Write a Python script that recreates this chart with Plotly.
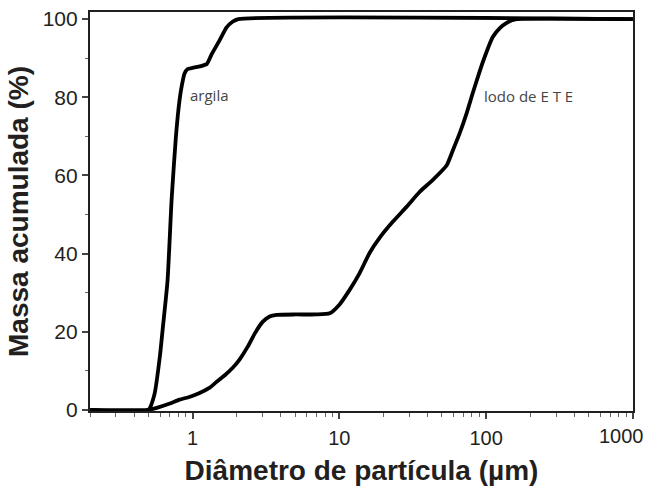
import math
import plotly.graph_objects as go

# Cumulative particle-size distributions (diameter in µm, cumulative mass in %)
argila_d = [0.2, 0.5, 0.55, 0.6, 0.625, 0.675, 0.72, 0.77, 0.815, 0.845, 0.88, 0.925,
            1.0, 1.1, 1.25, 1.35, 1.53, 1.7, 1.87, 2.05, 1000]
argila_m = [0, 0, 4, 14, 20.5, 33, 54, 70, 79.3, 83, 86, 87.2,
            87.5, 87.8, 88.5, 91, 94.6, 97.8, 99.3, 100, 100]

lodo_d = [0.2, 0.5, 0.57, 0.7, 0.815, 0.95, 1.116, 1.3, 1.46, 1.65, 1.87, 2.1, 2.37,
          2.65, 3.0, 3.35, 3.74, 5, 7, 8.6, 10, 11.75, 13.75, 16.1, 18.8, 23.1, 28.8,
          35.3, 43.2, 53.9, 59.2, 66.1, 73.8, 81, 87.6, 95, 111, 125, 138, 150, 162, 1000]
lodo_m = [0, 0, 0.5, 1.6, 2.6, 3.3, 4.3, 5.6, 7.2, 8.8, 10.7, 13, 16.1,
          19.5, 22.5, 23.9, 24.3, 24.4, 24.4, 24.7, 26.9, 30.7, 35, 40.2, 44, 48.1, 52,
          55.8, 58.8, 62.6, 66.3, 70.8, 76, 81, 85, 89, 95.4, 97.8, 99, 99.7, 100, 100]

x_ticks = [1, 10, 100, 1000]
x_ticktext = ["1", "10", "100", ""]   # the last label is drawn separately, kept inside the page
x_last_label = "1000"
y_ticks = [0, 20, 40, 60, 80, 100]
y_minor = [10, 30, 50, 70, 90]
x_minor = [k * 10 ** e for e in range(-1, 3) for k in range(2, 10) if 0.2 <= k * 10 ** e <= 1000]

labels = [("argila", 0.93, 80.6), ("lodo de E T E", 94, 80.4)]

INK = "#231f20"
TICK_SIZE = 20
fig = go.Figure()
for d, m in [(argila_d, argila_m), (lodo_d, lodo_m)]:
    fig.add_trace(go.Scatter(x=d, y=m, mode="lines", showlegend=False,
                             line=dict(color="black", width=3.8, shape="spline", smoothing=0.5),
                             hoverinfo="skip", cliponaxis=False))

for text, xd, yd in labels:
    fig.add_annotation(x=math.log10(xd), y=yd, xref="x", yref="y", text=text,
                       showarrow=False, xanchor="left", yanchor="middle",
                       font=dict(family="Open Sans", size=15, color="#454545"))

# end-of-axis tick label, right-aligned so it does not run off the page
fig.add_annotation(x=math.log10(x_ticks[-1]), y=0, xref="x", yref="paper",
                   text=x_last_label, showarrow=False, xanchor="right", yanchor="top",
                   xshift=12, yshift=-13, borderpad=0,
                   font=dict(family="Liberation Sans, Arial", size=TICK_SIZE, color=INK))

fig.update_layout(
    width=654, height=486,
    margin=dict(l=90, r=21, t=12, b=75),
    paper_bgcolor="white", plot_bgcolor="white",
    font=dict(family="Liberation Sans, Arial", color=INK),
)
fig.update_xaxes(
    type="log", range=[math.log10(0.2), 3.0008], automargin=False,
    tickmode="array", tickvals=x_ticks, ticktext=x_ticktext,
    ticks="outside", ticklen=6, tickwidth=1.5, tickcolor="#444",
    minor=dict(tickmode="array", tickvals=x_minor, ticks="outside", ticklen=4,
               tickwidth=1.2, tickcolor="#666"),
    showgrid=False, zeroline=False,
    showline=True, linewidth=2.2, linecolor=INK, mirror=True,
    tickfont=dict(size=TICK_SIZE, color=INK), ticklabelstandoff=2,
    title=dict(text="<b>Diâmetro de partícula (µm)</b>", font=dict(size=28, color=INK), standoff=14),
)
fig.update_yaxes(
    range=[-0.3, 101.8], automargin=False,
    tickmode="array", tickvals=y_ticks,
    ticks="outside", ticklen=6, tickwidth=1.5, tickcolor="#444",
    minor=dict(tickmode="array", tickvals=y_minor, ticks="outside", ticklen=3,
               tickwidth=1.2, tickcolor="#666"),
    showgrid=False, zeroline=False,
    showline=True, linewidth=2.2, linecolor=INK, mirror=True,
    tickfont=dict(size=21, color=INK),
    title=dict(text="<b>Massa acumulada (%)</b>", font=dict(size=28, color=INK), standoff=6),
)

fig.write_html("out.html")
